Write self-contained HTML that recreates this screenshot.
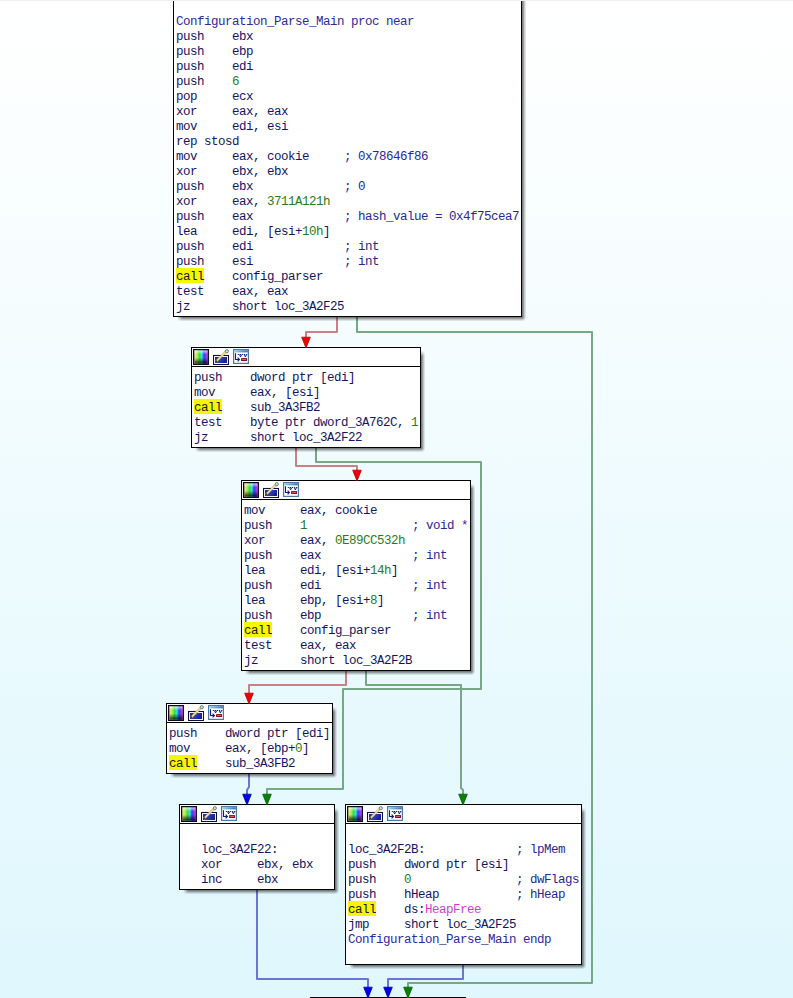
<!DOCTYPE html>
<html><head><meta charset="utf-8"><style>
html,body{margin:0;padding:0}
body{width:793px;height:998px;overflow:hidden;position:relative;
background:linear-gradient(to bottom,#ffffff 0px,#dff7fd 998px);}
.topline{position:absolute;left:0;top:0;width:793px;height:1px;background:#f0f0f0;z-index:5}
.edges,.arrows{position:absolute;left:0;top:0}
.edges{z-index:1}
.arrows{z-index:3}
.blk{position:absolute;box-sizing:border-box;border:1px solid #000;background:#fff;z-index:2;
}
.shr{position:absolute;width:4px;z-index:2;background:linear-gradient(to right,rgba(0,0,0,.55),rgba(0,0,0,.42) 30%,rgba(0,0,0,.2) 65%,rgba(0,0,0,.04));
-webkit-mask-image:linear-gradient(to bottom,transparent,#000 5px);}
.shb{position:absolute;height:4px;z-index:2;background:linear-gradient(to bottom,rgba(0,0,0,.55),rgba(0,0,0,.42) 30%,rgba(0,0,0,.2) 65%,rgba(0,0,0,.04));
-webkit-mask-image:linear-gradient(to right,transparent,#000 5px);}
.shc{position:absolute;width:4px;height:4px;z-index:2;background:radial-gradient(circle at 0 0,rgba(0,0,0,.55) 0,rgba(0,0,0,.42) 1.2px,rgba(0,0,0,.2) 2.6px,rgba(0,0,0,.04) 4px,transparent 4.5px);}
.hdr{position:absolute;left:0;top:0;right:0;height:18px;border-bottom:1px solid #000}
.txt{position:absolute;white-space:pre;font-family:"Liberation Mono",monospace;font-size:12.5px;letter-spacing:-0.5px;line-height:15px;color:#141462}
.hl{position:absolute;width:28px;height:15px;background:#f6f600}
.n{color:#1e7e1e}.c{color:#282892}.h{color:#2a2a9e}.m{color:#d23cd2}.k{color:#1a1a10}
</style></head><body>
<div class="topline"></div>
<svg class="edges" width="793" height="998" viewBox="0 0 793 998"><path d="M337 317 L337 332 L306 332 L306 340" stroke="#cc7f85" stroke-width="2" fill="none" stroke-linejoin="round"/><path d="M357 317 L357 332 L592 332 L592 983 L408 983 L408 990" stroke="#76a886" stroke-width="2" fill="none" stroke-linejoin="round"/><path d="M296 447 L296 466 L357 466 L357 473" stroke="#cc7f85" stroke-width="2" fill="none" stroke-linejoin="round"/><path d="M316 447 L316 462 L481 462 L481 689 L343 689 L343 789 L267 789 L267 797" stroke="#76a886" stroke-width="2" fill="none" stroke-linejoin="round"/><path d="M346 671 L346 685 L249 685 L249 696" stroke="#cc7f85" stroke-width="2" fill="none" stroke-linejoin="round"/><path d="M366 671 L366 685 L461 685 L461 788 L463 790 L463 797" stroke="#76a886" stroke-width="2" fill="none" stroke-linejoin="round"/><path d="M249 774 L249 787 L247 790 L247 797" stroke="#6876d2" stroke-width="2" fill="none" stroke-linejoin="round"/><path d="M257 889 L257 979 L368 979 L368 990" stroke="#6876d2" stroke-width="2" fill="none" stroke-linejoin="round"/><path d="M463 965 L463 979 L388 979 L388 990" stroke="#6876d2" stroke-width="2" fill="none" stroke-linejoin="round"/></svg>
<div class="shr" style="left:522px;top:-26px;height:343px"></div><div class="shb" style="left:177px;top:317px;width:345px"></div><div class="shc" style="left:522px;top:317px"></div><div class="blk" style="left:173px;top:-30px;width:349px;height:347px"><div class="hl" style="left:2px;top:297px"></div><div class="txt" style="left:2px;top:44px"><span class="h">Configuration_Parse_Main proc near</span>
push    ebx
push    ebp
push    edi
push    <span class="n">6</span>
pop     ecx
xor     eax, eax
mov     edi, esi
rep stosd
mov     eax, cookie     <span class="c">; 0x78646f86</span>
xor     ebx, ebx
push    ebx             <span class="c">; 0</span>
xor     eax, <span class="n">3711A121h</span>
push    eax             <span class="c">; hash_value = 0x4f75cea7</span>
lea     edi, [esi+<span class="n">10h</span>]
push    edi             <span class="c">; int</span>
push    esi             <span class="c">; int</span>
<span class="k">call</span>    config_parser
test    eax, eax
jz      short loc_3A2F25</div></div>
<div class="shr" style="left:421px;top:351px;height:97px"></div><div class="shb" style="left:195px;top:448px;width:226px"></div><div class="shc" style="left:421px;top:448px"></div><div class="blk" style="left:191px;top:347px;width:230px;height:101px"><div class="hdr"><svg width="16" height="16" viewBox="0 0 16 16" style="position:absolute;left:1px;top:1px">
<defs>
<linearGradient id="hue" x1="0" y1="0" x2="1" y2="0">
<stop offset="0" stop-color="#f8e8a0"/><stop offset="0.22" stop-color="#b8f048"/><stop offset="0.4" stop-color="#30e048"/>
<stop offset="0.56" stop-color="#38e0e8"/><stop offset="0.7" stop-color="#2848f0"/><stop offset="0.85" stop-color="#9a30f0"/><stop offset="1" stop-color="#f860f0"/>
</linearGradient>
<linearGradient id="shade" x1="0" y1="0" x2="0" y2="1">
<stop offset="0" stop-color="#fff" stop-opacity="0.7"/><stop offset="0.3" stop-color="#fff" stop-opacity="0"/>
<stop offset="0.55" stop-color="#000" stop-opacity="0"/><stop offset="1" stop-color="#000" stop-opacity="0.8"/>
</linearGradient>
</defs>
<rect x="0.65" y="0.65" width="14.7" height="14.7" fill="url(#hue)" stroke="#10082a" stroke-width="1.3"/>
<rect x="1.5" y="1.5" width="13" height="13" fill="url(#shade)"/>
</svg><svg width="16" height="16" viewBox="0 0 16 16" style="position:absolute;left:21px;top:1px">
<defs><linearGradient id="blu" x1="0" y1="0" x2="1" y2="0.4">
<stop offset="0" stop-color="#2a3068"/><stop offset="0.6" stop-color="#2a3ac0"/><stop offset="1" stop-color="#18208a"/></linearGradient></defs>
<rect x="0.5" y="6.5" width="15" height="9" fill="#fff" stroke="#0a1040" stroke-width="1.1"/>
<rect x="2" y="8" width="12" height="6" fill="url(#blu)"/>
<path d="M3.4 12.2 L12.8 2.8" stroke="#c0a060" stroke-width="2.3" stroke-linecap="round"/>
<path d="M3.4 12.2 L12.8 2.8" stroke="#f6e0a0" stroke-width="1.3" stroke-linecap="round"/>
<path d="M2.6 13 L4 11.6" stroke="#201810" stroke-width="1.2"/>
<circle cx="13.8" cy="2.2" r="1.6" fill="#c8e8e0" stroke="#587870" stroke-width="0.9"/>
</svg><svg width="16" height="16" viewBox="0 0 16 16" style="position:absolute;left:41px;top:1px">
<defs><linearGradient id="tb" x1="0" y1="0" x2="1" y2="0">
<stop offset="0" stop-color="#90d8f0"/><stop offset="1" stop-color="#4070b8"/></linearGradient></defs>
<rect x="0.6" y="0.6" width="14.8" height="13.8" fill="#fff" stroke="#4a78a8" stroke-width="1.2"/>
<rect x="1.2" y="1.2" width="13.6" height="2.2" fill="url(#tb)"/>
<path d="M2.5 4.2 V10.5 H6.4" stroke="#101a70" stroke-width="1.1" fill="none"/>
<path d="M4.6 8.6 L6.4 10.5 L4.6 12.4" stroke="#101a70" stroke-width="1.1" fill="none"/>
<path d="M4.8 5.5 H15" stroke="#101a70" stroke-width="1.1" stroke-dasharray="1.1 1"/>
<path d="M6.5 5.6 L7.6 7.9 L8.7 5.6 M11.3 5.6 L12.4 7.9 L13.5 5.6" stroke="#101a70" stroke-width="1" fill="none"/>
<rect x="8.6" y="9.6" width="4.9" height="1.9" fill="#e86078" stroke="#801028" stroke-width="1"/>
</svg></div><div class="hl" style="left:2px;top:51px"></div><div class="txt" style="left:2px;top:23px">push    dword ptr [edi]
mov     eax, [esi]
<span class="k">call</span>    sub_3A3FB2
test    byte ptr dword_3A762C, <span class="n">1</span>
jz      short loc_3A2F22</div></div>
<div class="shr" style="left:471px;top:484px;height:187px"></div><div class="shb" style="left:245px;top:671px;width:226px"></div><div class="shc" style="left:471px;top:671px"></div><div class="blk" style="left:241px;top:480px;width:230px;height:191px"><div class="hdr"><svg width="16" height="16" viewBox="0 0 16 16" style="position:absolute;left:1px;top:1px">
<defs>
<linearGradient id="hue" x1="0" y1="0" x2="1" y2="0">
<stop offset="0" stop-color="#f8e8a0"/><stop offset="0.22" stop-color="#b8f048"/><stop offset="0.4" stop-color="#30e048"/>
<stop offset="0.56" stop-color="#38e0e8"/><stop offset="0.7" stop-color="#2848f0"/><stop offset="0.85" stop-color="#9a30f0"/><stop offset="1" stop-color="#f860f0"/>
</linearGradient>
<linearGradient id="shade" x1="0" y1="0" x2="0" y2="1">
<stop offset="0" stop-color="#fff" stop-opacity="0.7"/><stop offset="0.3" stop-color="#fff" stop-opacity="0"/>
<stop offset="0.55" stop-color="#000" stop-opacity="0"/><stop offset="1" stop-color="#000" stop-opacity="0.8"/>
</linearGradient>
</defs>
<rect x="0.65" y="0.65" width="14.7" height="14.7" fill="url(#hue)" stroke="#10082a" stroke-width="1.3"/>
<rect x="1.5" y="1.5" width="13" height="13" fill="url(#shade)"/>
</svg><svg width="16" height="16" viewBox="0 0 16 16" style="position:absolute;left:21px;top:1px">
<defs><linearGradient id="blu" x1="0" y1="0" x2="1" y2="0.4">
<stop offset="0" stop-color="#2a3068"/><stop offset="0.6" stop-color="#2a3ac0"/><stop offset="1" stop-color="#18208a"/></linearGradient></defs>
<rect x="0.5" y="6.5" width="15" height="9" fill="#fff" stroke="#0a1040" stroke-width="1.1"/>
<rect x="2" y="8" width="12" height="6" fill="url(#blu)"/>
<path d="M3.4 12.2 L12.8 2.8" stroke="#c0a060" stroke-width="2.3" stroke-linecap="round"/>
<path d="M3.4 12.2 L12.8 2.8" stroke="#f6e0a0" stroke-width="1.3" stroke-linecap="round"/>
<path d="M2.6 13 L4 11.6" stroke="#201810" stroke-width="1.2"/>
<circle cx="13.8" cy="2.2" r="1.6" fill="#c8e8e0" stroke="#587870" stroke-width="0.9"/>
</svg><svg width="16" height="16" viewBox="0 0 16 16" style="position:absolute;left:41px;top:1px">
<defs><linearGradient id="tb" x1="0" y1="0" x2="1" y2="0">
<stop offset="0" stop-color="#90d8f0"/><stop offset="1" stop-color="#4070b8"/></linearGradient></defs>
<rect x="0.6" y="0.6" width="14.8" height="13.8" fill="#fff" stroke="#4a78a8" stroke-width="1.2"/>
<rect x="1.2" y="1.2" width="13.6" height="2.2" fill="url(#tb)"/>
<path d="M2.5 4.2 V10.5 H6.4" stroke="#101a70" stroke-width="1.1" fill="none"/>
<path d="M4.6 8.6 L6.4 10.5 L4.6 12.4" stroke="#101a70" stroke-width="1.1" fill="none"/>
<path d="M4.8 5.5 H15" stroke="#101a70" stroke-width="1.1" stroke-dasharray="1.1 1"/>
<path d="M6.5 5.6 L7.6 7.9 L8.7 5.6 M11.3 5.6 L12.4 7.9 L13.5 5.6" stroke="#101a70" stroke-width="1" fill="none"/>
<rect x="8.6" y="9.6" width="4.9" height="1.9" fill="#e86078" stroke="#801028" stroke-width="1"/>
</svg></div><div class="hl" style="left:2px;top:141px"></div><div class="txt" style="left:2px;top:23px">mov     eax, cookie
push    <span class="n">1</span>               <span class="c">; void *</span>
xor     eax, <span class="n">0E89CC532h</span>
push    eax             <span class="c">; int</span>
lea     edi, [esi+<span class="n">14h</span>]
push    edi             <span class="c">; int</span>
lea     ebp, [esi+<span class="n">8</span>]
push    ebp             <span class="c">; int</span>
<span class="k">call</span>    config_parser
test    eax, eax
jz      short loc_3A2F2B</div></div>
<div class="shr" style="left:333px;top:707px;height:67px"></div><div class="shb" style="left:170px;top:774px;width:163px"></div><div class="shc" style="left:333px;top:774px"></div><div class="blk" style="left:166px;top:703px;width:167px;height:71px"><div class="hdr"><svg width="16" height="16" viewBox="0 0 16 16" style="position:absolute;left:1px;top:1px">
<defs>
<linearGradient id="hue" x1="0" y1="0" x2="1" y2="0">
<stop offset="0" stop-color="#f8e8a0"/><stop offset="0.22" stop-color="#b8f048"/><stop offset="0.4" stop-color="#30e048"/>
<stop offset="0.56" stop-color="#38e0e8"/><stop offset="0.7" stop-color="#2848f0"/><stop offset="0.85" stop-color="#9a30f0"/><stop offset="1" stop-color="#f860f0"/>
</linearGradient>
<linearGradient id="shade" x1="0" y1="0" x2="0" y2="1">
<stop offset="0" stop-color="#fff" stop-opacity="0.7"/><stop offset="0.3" stop-color="#fff" stop-opacity="0"/>
<stop offset="0.55" stop-color="#000" stop-opacity="0"/><stop offset="1" stop-color="#000" stop-opacity="0.8"/>
</linearGradient>
</defs>
<rect x="0.65" y="0.65" width="14.7" height="14.7" fill="url(#hue)" stroke="#10082a" stroke-width="1.3"/>
<rect x="1.5" y="1.5" width="13" height="13" fill="url(#shade)"/>
</svg><svg width="16" height="16" viewBox="0 0 16 16" style="position:absolute;left:21px;top:1px">
<defs><linearGradient id="blu" x1="0" y1="0" x2="1" y2="0.4">
<stop offset="0" stop-color="#2a3068"/><stop offset="0.6" stop-color="#2a3ac0"/><stop offset="1" stop-color="#18208a"/></linearGradient></defs>
<rect x="0.5" y="6.5" width="15" height="9" fill="#fff" stroke="#0a1040" stroke-width="1.1"/>
<rect x="2" y="8" width="12" height="6" fill="url(#blu)"/>
<path d="M3.4 12.2 L12.8 2.8" stroke="#c0a060" stroke-width="2.3" stroke-linecap="round"/>
<path d="M3.4 12.2 L12.8 2.8" stroke="#f6e0a0" stroke-width="1.3" stroke-linecap="round"/>
<path d="M2.6 13 L4 11.6" stroke="#201810" stroke-width="1.2"/>
<circle cx="13.8" cy="2.2" r="1.6" fill="#c8e8e0" stroke="#587870" stroke-width="0.9"/>
</svg><svg width="16" height="16" viewBox="0 0 16 16" style="position:absolute;left:41px;top:1px">
<defs><linearGradient id="tb" x1="0" y1="0" x2="1" y2="0">
<stop offset="0" stop-color="#90d8f0"/><stop offset="1" stop-color="#4070b8"/></linearGradient></defs>
<rect x="0.6" y="0.6" width="14.8" height="13.8" fill="#fff" stroke="#4a78a8" stroke-width="1.2"/>
<rect x="1.2" y="1.2" width="13.6" height="2.2" fill="url(#tb)"/>
<path d="M2.5 4.2 V10.5 H6.4" stroke="#101a70" stroke-width="1.1" fill="none"/>
<path d="M4.6 8.6 L6.4 10.5 L4.6 12.4" stroke="#101a70" stroke-width="1.1" fill="none"/>
<path d="M4.8 5.5 H15" stroke="#101a70" stroke-width="1.1" stroke-dasharray="1.1 1"/>
<path d="M6.5 5.6 L7.6 7.9 L8.7 5.6 M11.3 5.6 L12.4 7.9 L13.5 5.6" stroke="#101a70" stroke-width="1" fill="none"/>
<rect x="8.6" y="9.6" width="4.9" height="1.9" fill="#e86078" stroke="#801028" stroke-width="1"/>
</svg></div><div class="hl" style="left:2px;top:51px"></div><div class="txt" style="left:2px;top:23px">push    dword ptr [edi]
mov     eax, [ebp+<span class="n">0</span>]
<span class="k">call</span>    sub_3A3FB2</div></div>
<div class="shr" style="left:335px;top:808px;height:82px"></div><div class="shb" style="left:183px;top:890px;width:152px"></div><div class="shc" style="left:335px;top:890px"></div><div class="blk" style="left:179px;top:804px;width:156px;height:86px"><div class="hdr"><svg width="16" height="16" viewBox="0 0 16 16" style="position:absolute;left:1px;top:1px">
<defs>
<linearGradient id="hue" x1="0" y1="0" x2="1" y2="0">
<stop offset="0" stop-color="#f8e8a0"/><stop offset="0.22" stop-color="#b8f048"/><stop offset="0.4" stop-color="#30e048"/>
<stop offset="0.56" stop-color="#38e0e8"/><stop offset="0.7" stop-color="#2848f0"/><stop offset="0.85" stop-color="#9a30f0"/><stop offset="1" stop-color="#f860f0"/>
</linearGradient>
<linearGradient id="shade" x1="0" y1="0" x2="0" y2="1">
<stop offset="0" stop-color="#fff" stop-opacity="0.7"/><stop offset="0.3" stop-color="#fff" stop-opacity="0"/>
<stop offset="0.55" stop-color="#000" stop-opacity="0"/><stop offset="1" stop-color="#000" stop-opacity="0.8"/>
</linearGradient>
</defs>
<rect x="0.65" y="0.65" width="14.7" height="14.7" fill="url(#hue)" stroke="#10082a" stroke-width="1.3"/>
<rect x="1.5" y="1.5" width="13" height="13" fill="url(#shade)"/>
</svg><svg width="16" height="16" viewBox="0 0 16 16" style="position:absolute;left:21px;top:1px">
<defs><linearGradient id="blu" x1="0" y1="0" x2="1" y2="0.4">
<stop offset="0" stop-color="#2a3068"/><stop offset="0.6" stop-color="#2a3ac0"/><stop offset="1" stop-color="#18208a"/></linearGradient></defs>
<rect x="0.5" y="6.5" width="15" height="9" fill="#fff" stroke="#0a1040" stroke-width="1.1"/>
<rect x="2" y="8" width="12" height="6" fill="url(#blu)"/>
<path d="M3.4 12.2 L12.8 2.8" stroke="#c0a060" stroke-width="2.3" stroke-linecap="round"/>
<path d="M3.4 12.2 L12.8 2.8" stroke="#f6e0a0" stroke-width="1.3" stroke-linecap="round"/>
<path d="M2.6 13 L4 11.6" stroke="#201810" stroke-width="1.2"/>
<circle cx="13.8" cy="2.2" r="1.6" fill="#c8e8e0" stroke="#587870" stroke-width="0.9"/>
</svg><svg width="16" height="16" viewBox="0 0 16 16" style="position:absolute;left:41px;top:1px">
<defs><linearGradient id="tb" x1="0" y1="0" x2="1" y2="0">
<stop offset="0" stop-color="#90d8f0"/><stop offset="1" stop-color="#4070b8"/></linearGradient></defs>
<rect x="0.6" y="0.6" width="14.8" height="13.8" fill="#fff" stroke="#4a78a8" stroke-width="1.2"/>
<rect x="1.2" y="1.2" width="13.6" height="2.2" fill="url(#tb)"/>
<path d="M2.5 4.2 V10.5 H6.4" stroke="#101a70" stroke-width="1.1" fill="none"/>
<path d="M4.6 8.6 L6.4 10.5 L4.6 12.4" stroke="#101a70" stroke-width="1.1" fill="none"/>
<path d="M4.8 5.5 H15" stroke="#101a70" stroke-width="1.1" stroke-dasharray="1.1 1"/>
<path d="M6.5 5.6 L7.6 7.9 L8.7 5.6 M11.3 5.6 L12.4 7.9 L13.5 5.6" stroke="#101a70" stroke-width="1" fill="none"/>
<rect x="8.6" y="9.6" width="4.9" height="1.9" fill="#e86078" stroke="#801028" stroke-width="1"/>
</svg></div><div class="txt" style="left:21px;top:23px">
loc_3A2F22:
xor     ebx, ebx
inc     ebx</div></div>
<div class="shr" style="left:582px;top:808px;height:157px"></div><div class="shb" style="left:349px;top:965px;width:233px"></div><div class="shc" style="left:582px;top:965px"></div><div class="blk" style="left:345px;top:804px;width:237px;height:161px"><div class="hdr"><svg width="16" height="16" viewBox="0 0 16 16" style="position:absolute;left:1px;top:1px">
<defs>
<linearGradient id="hue" x1="0" y1="0" x2="1" y2="0">
<stop offset="0" stop-color="#f8e8a0"/><stop offset="0.22" stop-color="#b8f048"/><stop offset="0.4" stop-color="#30e048"/>
<stop offset="0.56" stop-color="#38e0e8"/><stop offset="0.7" stop-color="#2848f0"/><stop offset="0.85" stop-color="#9a30f0"/><stop offset="1" stop-color="#f860f0"/>
</linearGradient>
<linearGradient id="shade" x1="0" y1="0" x2="0" y2="1">
<stop offset="0" stop-color="#fff" stop-opacity="0.7"/><stop offset="0.3" stop-color="#fff" stop-opacity="0"/>
<stop offset="0.55" stop-color="#000" stop-opacity="0"/><stop offset="1" stop-color="#000" stop-opacity="0.8"/>
</linearGradient>
</defs>
<rect x="0.65" y="0.65" width="14.7" height="14.7" fill="url(#hue)" stroke="#10082a" stroke-width="1.3"/>
<rect x="1.5" y="1.5" width="13" height="13" fill="url(#shade)"/>
</svg><svg width="16" height="16" viewBox="0 0 16 16" style="position:absolute;left:21px;top:1px">
<defs><linearGradient id="blu" x1="0" y1="0" x2="1" y2="0.4">
<stop offset="0" stop-color="#2a3068"/><stop offset="0.6" stop-color="#2a3ac0"/><stop offset="1" stop-color="#18208a"/></linearGradient></defs>
<rect x="0.5" y="6.5" width="15" height="9" fill="#fff" stroke="#0a1040" stroke-width="1.1"/>
<rect x="2" y="8" width="12" height="6" fill="url(#blu)"/>
<path d="M3.4 12.2 L12.8 2.8" stroke="#c0a060" stroke-width="2.3" stroke-linecap="round"/>
<path d="M3.4 12.2 L12.8 2.8" stroke="#f6e0a0" stroke-width="1.3" stroke-linecap="round"/>
<path d="M2.6 13 L4 11.6" stroke="#201810" stroke-width="1.2"/>
<circle cx="13.8" cy="2.2" r="1.6" fill="#c8e8e0" stroke="#587870" stroke-width="0.9"/>
</svg><svg width="16" height="16" viewBox="0 0 16 16" style="position:absolute;left:41px;top:1px">
<defs><linearGradient id="tb" x1="0" y1="0" x2="1" y2="0">
<stop offset="0" stop-color="#90d8f0"/><stop offset="1" stop-color="#4070b8"/></linearGradient></defs>
<rect x="0.6" y="0.6" width="14.8" height="13.8" fill="#fff" stroke="#4a78a8" stroke-width="1.2"/>
<rect x="1.2" y="1.2" width="13.6" height="2.2" fill="url(#tb)"/>
<path d="M2.5 4.2 V10.5 H6.4" stroke="#101a70" stroke-width="1.1" fill="none"/>
<path d="M4.6 8.6 L6.4 10.5 L4.6 12.4" stroke="#101a70" stroke-width="1.1" fill="none"/>
<path d="M4.8 5.5 H15" stroke="#101a70" stroke-width="1.1" stroke-dasharray="1.1 1"/>
<path d="M6.5 5.6 L7.6 7.9 L8.7 5.6 M11.3 5.6 L12.4 7.9 L13.5 5.6" stroke="#101a70" stroke-width="1" fill="none"/>
<rect x="8.6" y="9.6" width="4.9" height="1.9" fill="#e86078" stroke="#801028" stroke-width="1"/>
</svg></div><div class="hl" style="left:2px;top:96px"></div><div class="txt" style="left:2px;top:23px">
loc_3A2F2B:             <span class="c">; lpMem</span>
push    dword ptr [esi]
push    <span class="n">0</span>               <span class="c">; dwFlags</span>
push    hHeap           <span class="c">; hHeap</span>
<span class="k">call</span>    ds:<span class="m">HeapFree</span>
jmp     short loc_3A2F25
<span class="h">Configuration_Parse_Main endp</span>
</div></div>
<div class="shr" style="left:466px;top:1001px;height:100px"></div><div class="shb" style="left:314px;top:1101px;width:152px"></div><div class="shc" style="left:466px;top:1101px"></div><div class="blk" style="left:310px;top:997px;width:156px;height:104px"><div class="txt" style="left:2px;top:23px"></div></div>
<svg class="arrows" width="793" height="998" viewBox="0 0 793 998"><path d="M301.7 337.2 L310.3 337.2 L306 348 Z" fill="#f00000" stroke="#b00000" stroke-width="0.8" stroke-linejoin="round"/><path d="M403.7 987.2 L412.3 987.2 L408 998 Z" fill="#0a800a" stroke="#005a00" stroke-width="0.8" stroke-linejoin="round"/><path d="M352.7 470.2 L361.3 470.2 L357 481 Z" fill="#f00000" stroke="#b00000" stroke-width="0.8" stroke-linejoin="round"/><path d="M262.7 794.2 L271.3 794.2 L267 805 Z" fill="#0a800a" stroke="#005a00" stroke-width="0.8" stroke-linejoin="round"/><path d="M244.7 693.2 L253.3 693.2 L249 704 Z" fill="#f00000" stroke="#b00000" stroke-width="0.8" stroke-linejoin="round"/><path d="M458.7 794.2 L467.3 794.2 L463 805 Z" fill="#0a800a" stroke="#005a00" stroke-width="0.8" stroke-linejoin="round"/><path d="M242.7 794.2 L251.3 794.2 L247 805 Z" fill="#0000f0" stroke="#0000a0" stroke-width="0.8" stroke-linejoin="round"/><path d="M363.7 987.2 L372.3 987.2 L368 998 Z" fill="#0000f0" stroke="#0000a0" stroke-width="0.8" stroke-linejoin="round"/><path d="M383.7 987.2 L392.3 987.2 L388 998 Z" fill="#0000f0" stroke="#0000a0" stroke-width="0.8" stroke-linejoin="round"/></svg>
</body></html>
